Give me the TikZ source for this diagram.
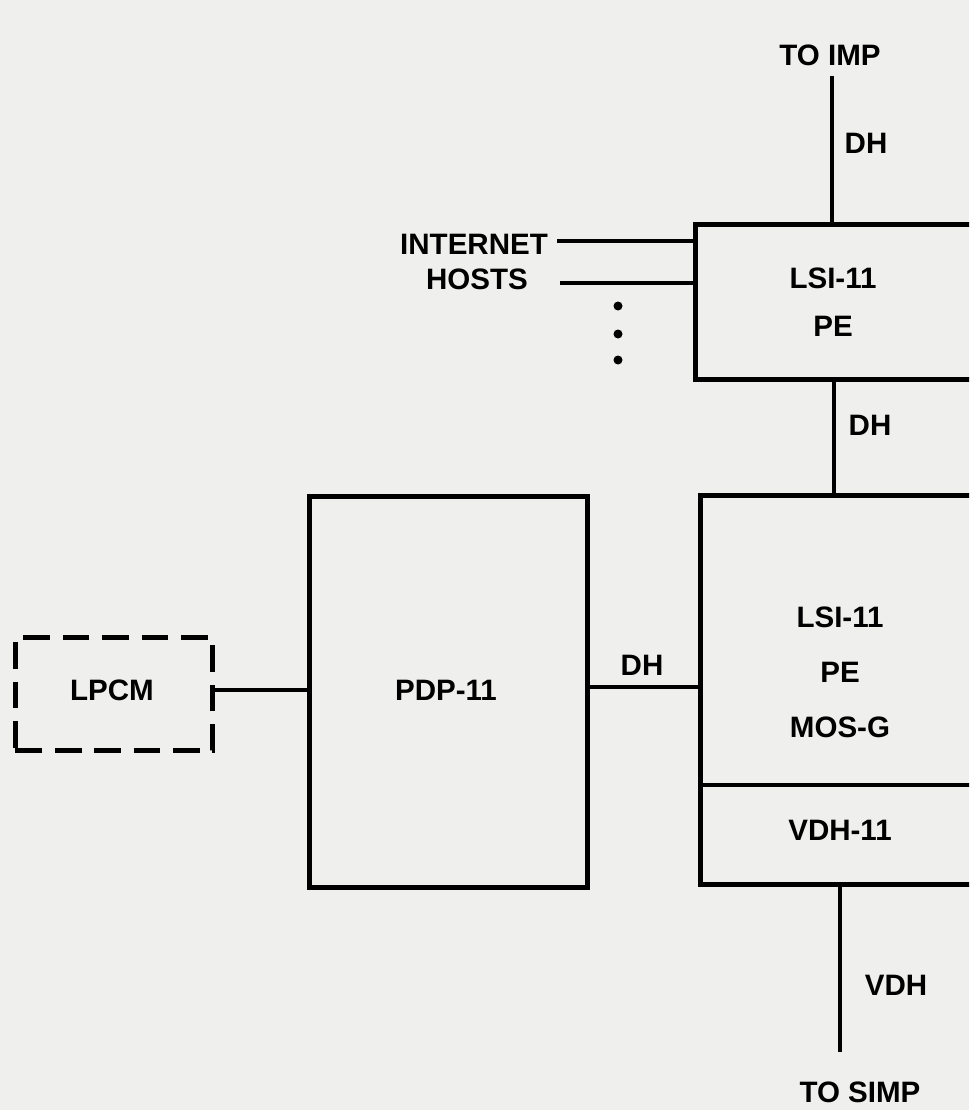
\documentclass[tikz,border=0pt]{standalone}
\usepackage{fontspec}
\setmainfont{Liberation Sans}
\usetikzlibrary{positioning}
\definecolor{paper}{RGB}{239,239,237}

\begin{document}
\begin{tikzpicture}[x=0.025cm,y=-0.025cm,
  font=\fontsize{21}{24}\selectfont\bfseries,
  box/.style={draw,line width=3.2pt,anchor=north west,inner sep=0pt},
  wire/.style={line width=2.2pt},
  lbl/.style={inner sep=1pt}]
  \fill[paper] (0,0) rectangle (969,1110);
  \useasboundingbox (0,0) rectangle (969,1110);
  \begin{scope}
  \clip (0,0) rectangle (969,1110);
  % boxes
  \node[box,minimum width=8cm,minimum height=3.875cm] (lsiA) at (693,222) {};
  \node[box,minimum width=8cm,minimum height=9.725cm] (lsiB) at (698,493) {};
  \node[box,minimum width=6.95cm,minimum height=9.775cm] (pdp) at (307,494) {};
  \node[box,dash pattern=on 19pt off 9pt,line width=3.5pt,
        minimum width=4.925cm,minimum height=2.825cm] (lpcm) at (13,635) {};
  \draw[line width=2.6pt] (lsiB.west |- 0,785) -- (lsiB.east |- 0,785);

  % texts
  \node[lbl] (imp) at (830,55) {TO IMP};
  \node[lbl] (simp) at (860,1092) {TO SIMP};
  \node[lbl] at (866,143) {DH};
  \node[lbl] at (870,425) {DH};
  \node[lbl] at (642,665) {DH};
  \node[lbl] at (896,985) {VDH};
  \node[lbl] (inet) at (474,244) {INTERNET};
  \node[lbl] (hosts) at (477,279) {HOSTS};
  \node[lbl] at (833,278) {LSI-11};
  \node[lbl] at (833,326) {PE};
  \node[lbl] at (840,617) {LSI-11};
  \node[lbl] at (840,672) {PE};
  \node[lbl] at (840,727) {MOS-G};
  \node[lbl] at (840,830) {VDH-11};
  \node[lbl] at (446,690) {PDP-11};
  \node[lbl] at (112,690) {LPCM};

  % connectors
  \coordinate (t1) at (832,76);
  \coordinate (t2) at (834,377);
  \coordinate (t3) at (840,1052);
  \coordinate (h1) at (557,241);
  \coordinate (h2) at (560,283);
  \draw[wire] (t1) -- (t1 |- lsiA.north);
  \draw[wire] (t2) -- (t2 |- lsiB.north);
  \draw[wire] (t3 |- lsiB.south) -- (t3);
  \draw[wire] (h1) -- (h1 -| lsiA.west);
  \draw[wire] (h2) -- (h2 -| lsiA.west);
  \draw[wire] (pdp.east |- 0,687) -- (lsiB.west |- 0,687);
  \draw[wire] (lpcm.east |- 0,690) -- (pdp.west |- 0,690);
  \foreach \y in {306,334,360}
    \fill (618,\y) circle (4.5);
  \end{scope}
\end{tikzpicture}
\end{document}
